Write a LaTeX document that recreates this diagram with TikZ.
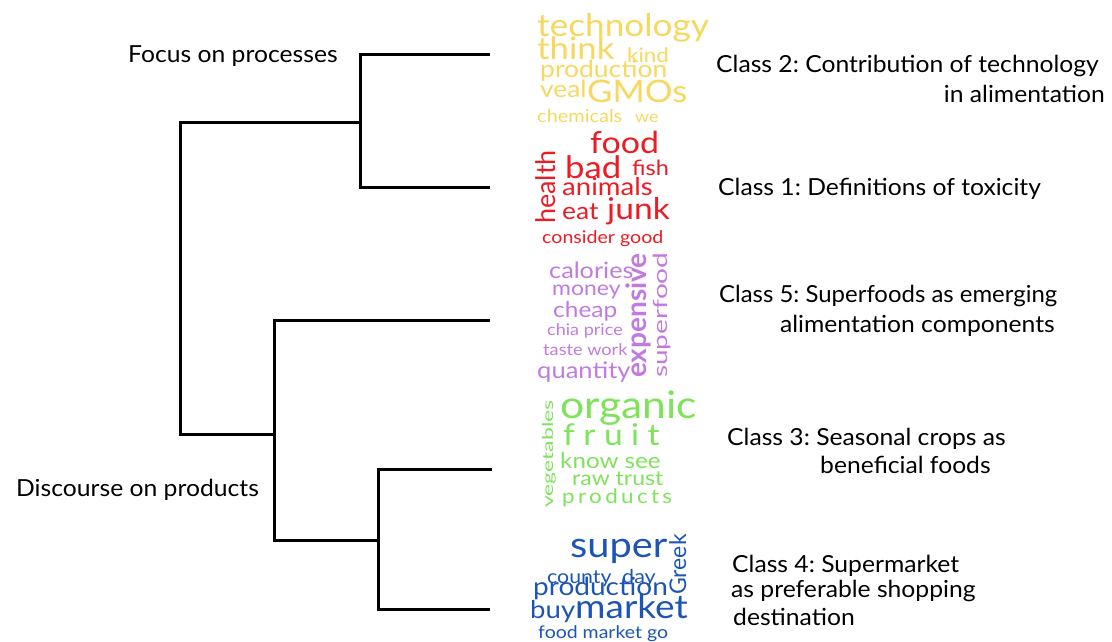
\documentclass[tikz,border=0pt]{standalone}
\usepackage{fontspec}
\setmainfont{Lato}
\frenchspacing
\definecolor{cyel}{HTML}{F6D85E}
\definecolor{cred}{HTML}{EC1C24}
\definecolor{cvio}{HTML}{C17BE0}
\definecolor{cgrn}{HTML}{7EE35A}
\definecolor{cblu}{HTML}{1D55B4}
\tikzset{
  branch/.style={line width=3pt,line join=miter},
  lbl/.style={anchor=base west,inner sep=0pt,xscale=1.05,font=\fontsize{23.5}{28}\selectfont},
  word/.style={anchor=base west,inner sep=0pt,xscale=1.12},
  upword/.style={anchor=base west,inner sep=0pt,rotate=90}
}
\begin{document}
\begin{tikzpicture}[x=1pt,y=-1pt]
\path[use as bounding box] (0,0) rectangle (1112,641);
% dendrogram
\coordinate (c2) at (490,54);
\coordinate (c1) at (490,187);
\coordinate (c5) at (490,320);
\coordinate (c3) at (492,469);
\coordinate (c4) at (490,609);
\coordinate (j21) at (360,122);
\coordinate (j34) at (378,540);
\coordinate (j534) at (274,434);
\coordinate (root) at (180,278);
\draw[branch] (c2) -| (j21) |- (c1);
\draw[branch] (c3) -| (j34) |- (c4);
\draw[branch] (c5) -| (j534) |- (j34);
\draw[branch] (j21) -| (root) |- (j534);
\node[lbl] (focus) at (128,62) {Focus on processes};
\node[lbl] (disc) at (16,496) {Discourse on products};
% class labels
\node[lbl] (k2a) at (716,72) {Class 2: Contribution of technology};
\node[lbl,anchor=base east] (k2b) at (1105,102) {in alimentation};
\node[lbl] (k1) at (718,195) {Class 1: Definitions of toxicity};
\node[lbl,xscale=0.97] (k5a) at (719,302) {Class 5: Superfoods as emerging};
\node[lbl,anchor=base east] (k5b) at (1055,332) {alimentation components};
\node[lbl] (k3a) at (727,445) {Class 3: Seasonal crops as};
\node[lbl] (k3b) at (820,473) {beneficial foods};
\node[lbl] (k4a) at (732,572) {Class 4: Supermarket};
\node[lbl] (k4b) at (731,597) {as preferable shopping};
\node[lbl] (k4c) at (733,625) {destination};
% word clouds
\foreach \w/\px/\py/\fs [count=\i] in {technology/537/36/31.4,think/537/59/31,kind/627/62/20,production/540/77/23.6,veal/540/97/23.5,GMOs/587/102/31,chemicals/537/122/17.8,we/635/122/16}
  \node[word,cyel,font=\fontsize{\fs}{\fs}\selectfont] (y\i) at (\px,\py) {\w};
\foreach \w/\px/\py/\fs [count=\i] in {food/590/153/30.3,bad/565/178/31,fish/632/175/21,animals/562/195/24.6,eat/562/219/23.6,junk/607/219/30,consider good/542/243/17.5}
  \node[word,cred,font=\fontsize{\fs}{\fs}\selectfont] (r\i) at (\px,\py) {\w};
\foreach \w/\px/\py/\fs [count=\i] in {calories/549/278/22.5,money/552/295/20.5,cheap/553/317/21.8,chia price/547/335/16.1,taste work/543/355/16.2,quantity/537/378/22.8}
  \node[word,cvio,font=\fontsize{\fs}{\fs}\selectfont] (v\i) at (\px,\py) {\w};
\foreach \w/\px/\py/\fs [count=\i] in {organic/560/418/38,know see/560/468/21.6,raw trust/572/485/20.5}
  \node[word,cgrn,font=\fontsize{\fs}{\fs}\selectfont] (g\i) at (\px,\py) {\w};
\foreach \w/\px/\py/\fs [count=\i] in {super/570/557/35.5,county/547/583/19,day/622/583/19.2,production/533/595/25,buy/530/618/24.6,market/575/618/33,food market go/538/638/17.4}
  \node[word,cblu,font=\fontsize{\fs}{\fs}\selectfont] (b\i) at (\px,\py) {\w};
\node[word,cgrn,font=\fontsize{30}{30}\selectfont\addfontfeature{LetterSpace=25}] (frt) at (563,445) {fruit};
\node[word,cgrn,font=\fontsize{20}{20}\selectfont\addfontfeature{LetterSpace=15}] (prd) at (562,503) {products};
\node[upword,cred,font=\fontsize{27}{27}\selectfont] (hlth) at (555,224) {health};
\node[upword,cvio,font=\bfseries\fontsize{28}{28}\selectfont] (expn) at (646,378) {expensive};
\node[upword,cvio,yscale=0.7,font=\fontsize{28}{28}\selectfont] (supf) at (667,378) {superfood};
\node[upword,cgrn,yscale=0.65,font=\fontsize{23}{23}\selectfont] (vegt) at (553,508) {vegetables};
\node[upword,cblu,font=\fontsize{23}{23}\selectfont] (grk) at (686,595) {Greek};
\end{tikzpicture}
\end{document}
